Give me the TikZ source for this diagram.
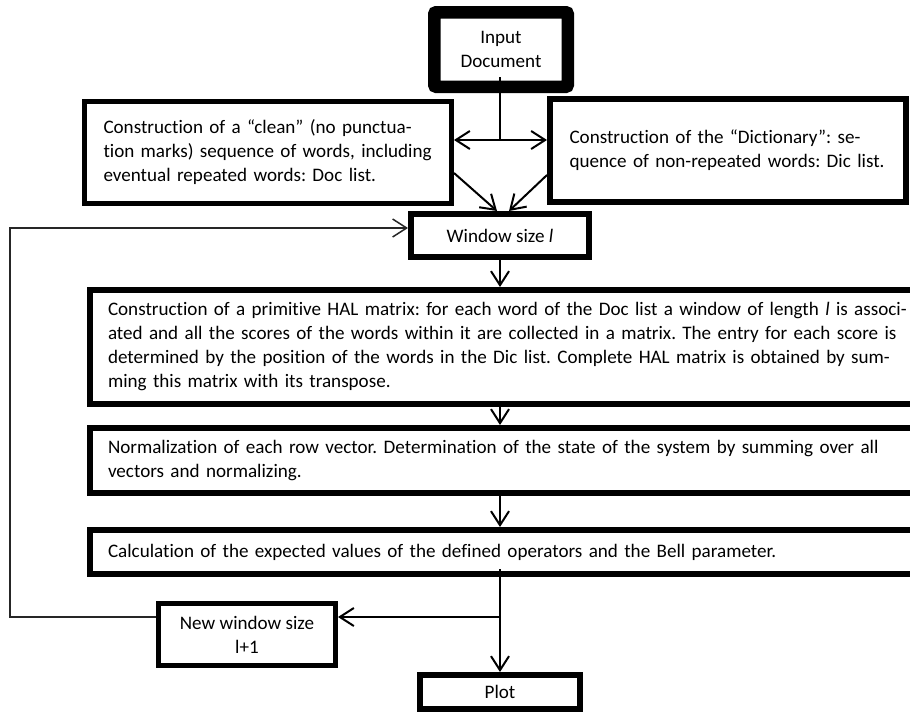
\documentclass[tikz,border=0pt]{standalone}
\usepackage{fontspec}
\setmainfont{Carlito}[Ligatures={NoCommon}]
\usetikzlibrary{arrows.meta}
\newcommand\fsz{\fontsize{19.1pt}{24pt}\selectfont\frenchspacing}
\newcommand\jline[1]{\hbox to \hsize{#1}}
\begin{document}
\begin{tikzpicture}[x=1pt,y=-1pt,
  flowbox/.style={draw, line width=6pt, fill=white, inner sep=0pt, font=\fsz},
  conn/.style={line width=2pt},
  arr/.style={line width=2pt, -{Straight Barb[length=14pt,width=18pt]}},
  loopline/.style={line width=1.5pt, black!85}]
\useasboundingbox (0,0) rectangle (910,713);
\clip (0,0) rectangle (910,713);

% nodes
\node[flowbox, line width=12.5pt, rounded corners=2pt, minimum width=133.5pt,
      minimum height=74.5pt, align=center] (inp) at (501,49.5)
  {\raisebox{-2pt}{\vbox{\hbox to 110pt{\hfil Input\hfil}\hbox to 110pt{\hfil Document\hfil}}}};

\node[flowbox, line width=5pt, minimum width=367pt, minimum height=102pt,
      text width=329pt] (clean) at (268,152.5)
  {\vbox{\jline{Construction of a “clean” (no punctua-}%
   \jline{tion marks) sequence of words, including}%
   \hbox{eventual repeated words: Doc list.}}};

\node[flowbox, minimum width=356pt, minimum height=103pt, text width=317pt]
  (dict) at (728,150.5)
  {\vbox{\jline{Construction of the “Dictionary”: se-}%
   \hbox{quence of non-repeated words: Dic list.}}};

\node[flowbox, minimum width=178pt, minimum height=43pt] (win) at (500,235.5)
  {Window size \textit{l}};

\node[flowbox, text width=789pt, inner xsep=18pt, minimum height=114pt]
  (hal) at (502.5,347)
  {\vbox{\jline{Construction of a primitive HAL matrix: for each word of the Doc list a window of length \textit{l} is associ-}%
   \jline{ated and all the scores of the words within it are collected in a matrix. The entry for each score is}%
   \jline{determined by the position of the words in the Dic list. Complete HAL matrix is obtained by sum-}%
   \hbox{ming this matrix with its transpose.}}};

\node[flowbox, text width=789pt, inner xsep=18pt, minimum height=65pt]
  (norm) at (502.5,460.5)
  {\vbox{\jline{Normalization of each row vector. Determination of the state of the system by summing over all}%
   \hbox{vectors and normalizing.}}};

\node[flowbox, text width=789pt, inner xsep=18pt, minimum height=44pt]
  (calc) at (502.5,552)
  {\hbox{Calculation of the expected values of the defined operators and the Bell parameter.}};

\node[flowbox, line width=5pt, minimum width=177pt, minimum height=62pt,
      align=center] (nw) at (247,634.5) {New window size\\l+1};

\node[flowbox, minimum width=160pt, minimum height=34pt] (plot) at (500,692)
  {\raisebox{-2pt}{Plot}};

% coordinates
\coordinate (col) at (500,0);
\coordinate (j) at (500,140);
\coordinate (br) at (500,617);
\coordinate (lb) at (10,617);
\coordinate (lt) at (10,228);

% connectors
\draw[conn] ([yshift=16pt]inp.south -| col) -- (j);
\draw[conn, {Straight Barb[length=14pt,width=18pt]}-{Straight Barb[length=14pt,width=18pt]}]
  (clean.east |- j) -- (dict.west |- j);
\draw[arr] ([yshift=-20.5pt]clean.east) -- ([xshift=-3pt]win.north);
\draw[arr] ([yshift=-24.5pt]dict.west) -- ([xshift=9pt]win.north);
\draw[arr] (win.south) -- (win.south |- hal.north);
\draw[arr] (hal.south -| col) -- (norm.north -| col);
\draw[arr] (norm.south -| col) -- (calc.north -| col);
\draw[arr] ([yshift=8pt]calc.south -| col) -- (plot.north);
\draw[arr] (br) -- (nw.east |- br);
\draw[loopline, -{Straight Barb[length=14pt,width=18pt]}]
  (nw.west |- br) -- (lb) -- (lt) -- (win.west |- lt);
\end{tikzpicture}
\end{document}
